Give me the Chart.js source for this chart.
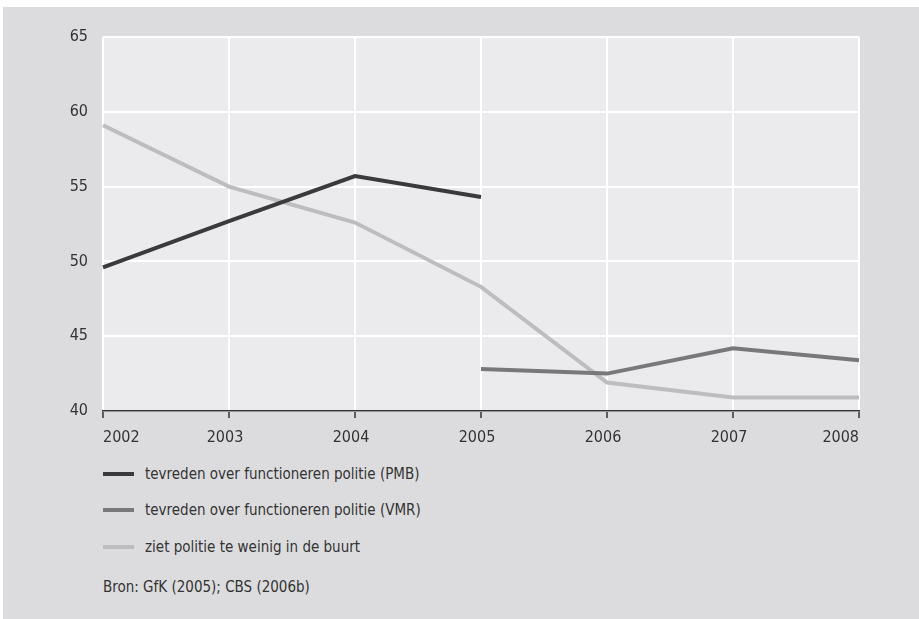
<!DOCTYPE html>
<html>
<head>
<meta charset="UTF-8">
<script src="https://cdn.jsdelivr.net/npm/chart.js"></script>
<style>
  body { margin: 0; background: #fff; width: 919px; height: 619px; overflow: hidden; }
  #panel { position: absolute; left: 3px; top: 7px; width: 916px; height: 612px; background: #dcdcde; }
  #wrap { position: absolute; left: 0; top: 0; width: 919px; height: 460px; }
  .fnt { font-family: "Liberation Sans Narrow", "DejaVu Sans Condensed", "Liberation Sans", sans-serif; color: #333; }
  .row { position: absolute; left: 103px; height: 20px; display: flex; align-items: center; font-size: 15px; }
  .row span.sw { display: inline-block; width: 31px; height: 4px; margin-right: 11px; }
  #src { position: absolute; left: 103px; top: 578px; font-size: 15px; }
</style>
</head>
<body>
<div id="panel"></div>
<div id="wrap"><canvas id="chart" width="919" height="460"></canvas></div>
<div id="legend" class="fnt"></div>
<div id="src" class="fnt">Bron: GfK (2005); CBS (2006b)</div>
<script>
const years = ["2002", "2003", "2004", "2005", "2006", "2007", "2008"];
const pmb = [49.6, 52.7, 55.7, 54.3, null, null, null];
const vmr = [null, null, null, 42.8, 42.5, 44.2, 43.4];
const weinig = [59.1, 55.0, 52.6, 48.3, 41.9, 40.9, 40.9];
const seriesNames = [
  "tevreden over functioneren politie (PMB)",
  "tevreden over functioneren politie (VMR)",
  "ziet politie te weinig in de buurt"
];
const seriesColors = ["#3a3a3c", "#78787b", "#bdbdbf"];
const yTicks = [40, 45, 50, 55, 60, 65];

const FONT = '"Liberation Sans Narrow", "DejaVu Sans Condensed", "Liberation Sans", sans-serif';

const plotBg = {
  id: 'plotBg',
  beforeDraw(chart) {
    const a = chart.chartArea, ctx = chart.ctx;
    ctx.save();
    ctx.fillStyle = '#ebebed';
    ctx.fillRect(a.left, a.top, a.right - a.left, a.bottom - a.top);
    ctx.restore();
  }
};

// x labels: first left aligned, last right aligned
const xLabels = {
  id: 'xLabels',
  afterDraw(chart) {
    const sc = chart.scales.x, ctx = chart.ctx;
    ctx.save();
    ctx.font = '16px ' + FONT;
    ctx.fillStyle = '#333';
    ctx.textBaseline = 'middle';
    years.forEach((y, i) => {
      const px = sc.getPixelForValue(i);
      if (i === 0) { ctx.textAlign = 'left'; ctx.fillText(y, px, sc.top + 27); }
      else if (i === years.length - 1) { ctx.textAlign = 'right'; ctx.fillText(y, px, sc.top + 27); }
      else { ctx.textAlign = 'center'; ctx.fillText(y, px - 4, sc.top + 27); }
    });
    ctx.restore();
  }
};

const data = {
  labels: years,
  datasets: [pmb, vmr, weinig].map((d, i) => ({
    label: seriesNames[i],
    data: d,
    borderColor: seriesColors[i],
    backgroundColor: seriesColors[i],
    borderWidth: 4,
    pointRadius: 0,
    tension: 0,
    spanGaps: false
  }))
};

new Chart(document.getElementById('chart'), {
  type: 'line',
  data: data,
  options: {
    responsive: false,
    animation: false,
    layout: { padding: { top: 37, right: 60, left: 0, bottom: 0 } },
    plugins: { legend: { display: false }, tooltip: { enabled: false } },
    scales: {
      x: {
        offset: false,
        grid: { color: '#ffffff', lineWidth: 2, drawTicks: true, tickLength: 7, tickColor: '#333', tickWidth: 1.5 },
        border: { color: '#333', width: 1.5 },
        ticks: { display: false },
        afterFit(s) { s.height = 49; }
      },
      y: {
        min: 40, max: 65,
        afterBuildTicks(s) { s.ticks = yTicks.map(v => ({ value: v })); },
        grid: { color: '#ffffff', lineWidth: 2, drawTicks: false },
        border: { display: false },
        ticks: { color: '#333', padding: 15, font: { family: FONT, size: 16 } },
        afterFit(s) { s.width = 103; }
      }
    }
  },
  plugins: [plotBg, xLabels]
});

const legend = document.getElementById('legend');
const rowTops = [464, 500, 537];
seriesNames.forEach((n, i) => {
  const r = document.createElement('div');
  r.className = 'row';
  r.style.top = rowTops[i] + 'px';
  r.innerHTML = '<span class="sw" style="background:' + seriesColors[i] + '"></span>' + n;
  legend.appendChild(r);
});
</script>
</body>
</html>
